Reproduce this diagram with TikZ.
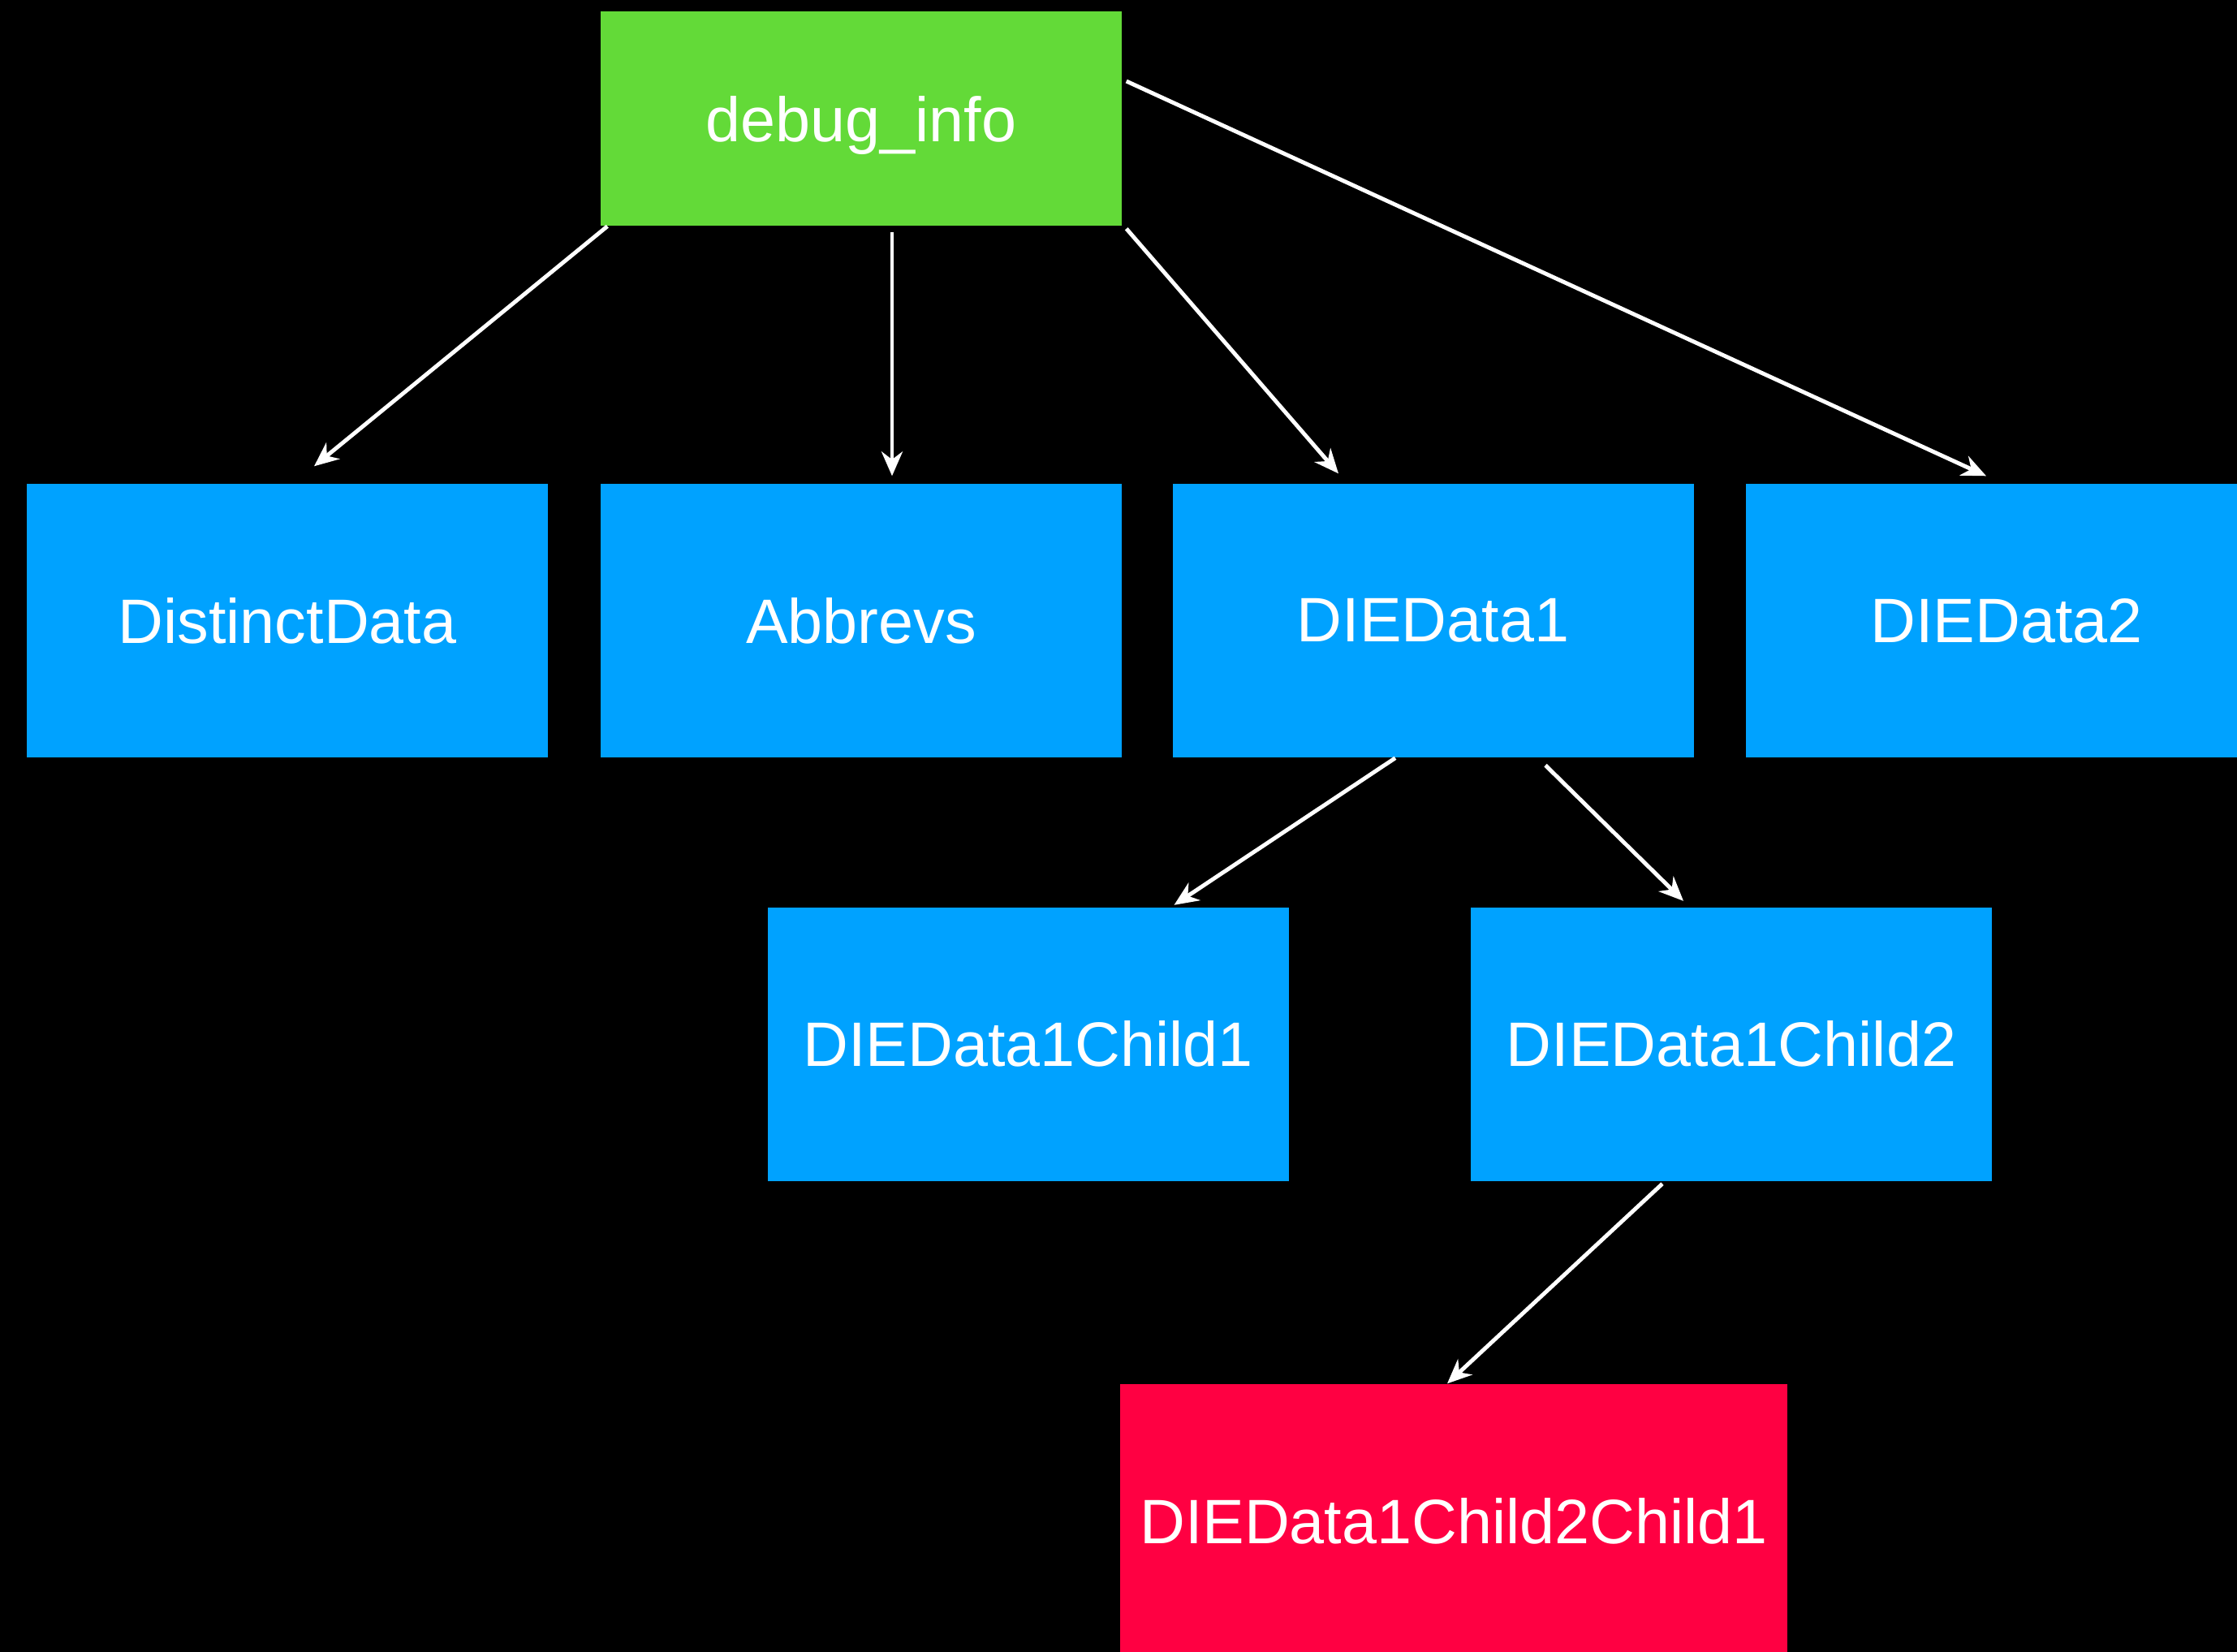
\documentclass[tikz,border=0pt]{standalone}
\usepackage{fontspec}
\setmainfont{Liberation Sans}
\usepackage{xcolor}
\usepackage{tikz}
\usetikzlibrary{arrows.meta}

\definecolor{boxgreen}{RGB}{99,218,56}
\definecolor{boxblue}{RGB}{0,162,255}
\definecolor{boxred}{RGB}{255,0,66}

\tikzset{
  box/.style={fill=#1, text=white, font=\fontsize{22}{26}\selectfont, inner sep=0pt, minimum width=6.42cm, minimum height=3.37cm},
  box/.default=boxblue,
  link/.style={draw=white, line width=1.4pt, -{Stealth[length=0.3cm, width=0.26cm]}}
}

\begin{document}
\begin{tikzpicture}
\useasboundingbox (0,0) rectangle (27.56,-20.34);
\fill[black] (-0.2,0.2) rectangle (27.76,-20.54);
\clip (0,0) rectangle (27.56,-20.34);
% boxes
\node[box=boxgreen, minimum height=2.64cm, text depth=0pt] (dbg) at (10.61,-1.46) {debug\_info};
\node[box=boxblue] (distinct) at (3.54,-7.645) {DistinctData};
\node[box=boxblue] (abbrevs) at (10.61,-7.645) {Abbrevs};
\node[box=boxblue] (die1) at (17.655,-7.645) {DIEData1};
\node[box=boxblue] (die2) at (24.72,-7.645) {DIEData2};
\node[box=boxblue] (child1) at (12.665,-12.86) {DIEData1Child1};
\node[box=boxblue] (child2) at (21.33,-12.86) {DIEData1Child2};
\node[box=boxred, minimum width=8.22cm] (grandchild) at (17.91,-18.735) {DIEData1Child2Child1};
% links
\draw[link] ([xshift=0.09cm]dbg.south west) -- ([xshift=0.33cm,yshift=0.21cm]distinct.north);
\draw[link] ([xshift=0.38cm,yshift=-0.07cm]dbg.south) -- ([xshift=0.38cm,yshift=0.09cm]abbrevs.north);
\draw[link] ([xshift=0.05cm,yshift=-0.03cm]dbg.south east) -- ([xshift=-1.165cm,yshift=0.12cm]die1.north);
\draw[link] ([xshift=0.05cm,yshift=0.46cm]dbg.east) -- ([xshift=-0.25cm,yshift=0.09cm]die2.north);
\draw[link] ([xshift=-0.465cm]die1.south) -- ([xshift=1.8cm,yshift=0.02cm]child1.north);
\draw[link] ([xshift=1.385cm,yshift=-0.09cm]die1.south) -- ([xshift=-0.59cm,yshift=0.07cm]child2.north);
\draw[link] ([xshift=-0.85cm,yshift=-0.03cm]child2.south) -- ([xshift=-0.08cm]grandchild.north);
\end{tikzpicture}
\end{document}
